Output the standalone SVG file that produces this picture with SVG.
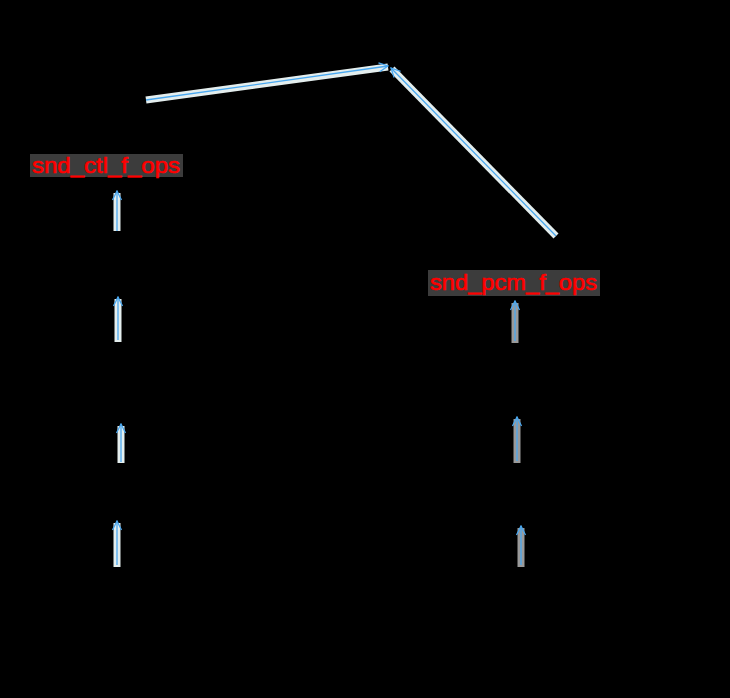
<svg xmlns="http://www.w3.org/2000/svg" width="730" height="698" viewBox="0 0 730 698">
<style>
.lbl{font-family:"Liberation Sans",Arial,sans-serif;font-size:22px;fill:#ff0000;stroke:#ff0000;stroke-width:0.6}
.box{fill:#3c3c3c}
.halo{fill:none;stroke:#e4eeee;stroke-width:7}
.haloG{fill:none;stroke:#9a9a9a;stroke-width:7}
.edge{fill:none;stroke:#4aa8f0;stroke-width:1.3;marker-end:url(#arr)}
</style>
<defs>
<marker id="arr" viewBox="0 0 12 12" refX="11" refY="6" markerWidth="12" markerHeight="12" markerUnits="userSpaceOnUse" orient="auto">
<path d="M2,1.5 L11,6 L2,10.5" fill="none" stroke="#4aa8f0" stroke-width="1.3"/>
</marker>
</defs>
<rect x="0" y="0" width="730" height="698" fill="#000"/>
<g id="connectors">
<g id="halos">
<line class="halo" x1="146" y1="100" x2="388" y2="67"/>
<line class="halo" x1="556" y1="236" x2="392" y2="69"/>
<line class="halo" x1="117" y1="231" x2="117" y2="193"/>
<line class="halo" x1="118" y1="342" x2="118" y2="299"/>
<line class="halo" x1="121" y1="463" x2="121" y2="426"/>
<line class="halo" x1="117" y1="567" x2="117" y2="523"/>
<line class="haloG" x1="515" y1="343" x2="515" y2="303"/>
<line class="haloG" x1="517" y1="463" x2="517" y2="419"/>
<line class="haloG" x1="521" y1="567" x2="521" y2="528"/>
</g>
<path class="edge" d="M146,100 L388,66"/>
<path class="edge" d="M556,236 L391,68"/>
<path class="edge" d="M117,231 L117,191"/>
<path class="edge" d="M118,340 L118,297"/>
<path class="edge" d="M121,462 L121,424"/>
<path class="edge" d="M117,565 L117,521"/>
<path class="edge" d="M515,341 L515,301"/>
<path class="edge" d="M517,461 L517,417"/>
<path class="edge" d="M521,565 L521,526"/>
</g>
<g id="snd_ctl_f_ops">
<rect class="box" x="30" y="154" width="153" height="23"/>
<text class="lbl" x="32" y="173" textLength="148" lengthAdjust="spacingAndGlyphs">snd_ctl_f_ops</text>
</g>
<g id="snd_pcm_f_ops">
<rect class="box" x="428" y="270" width="172" height="26"/>
<text class="lbl" x="430" y="290" textLength="167" lengthAdjust="spacingAndGlyphs">snd_pcm_f_ops</text>
</g>
</svg>
